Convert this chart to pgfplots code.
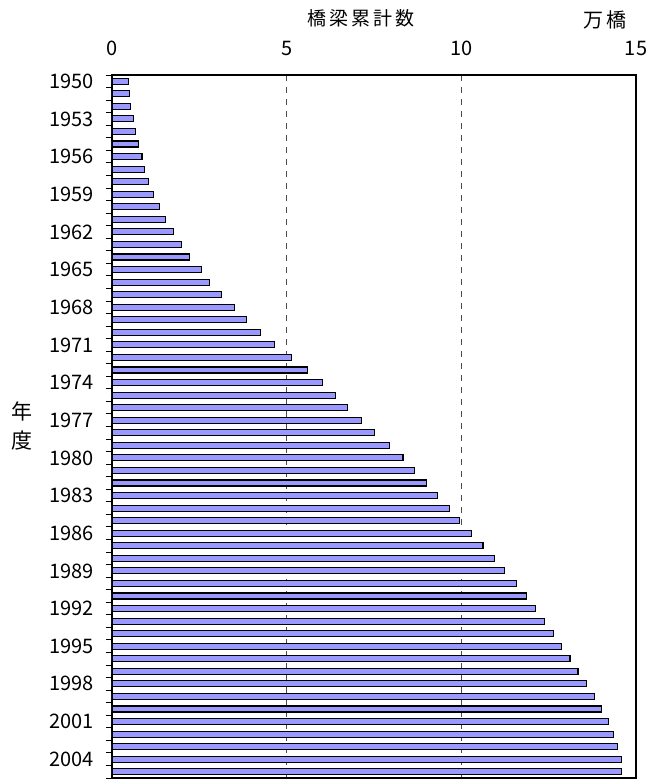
\documentclass[border=0pt]{standalone}
\usepackage{fontspec}
\setmainfont{Noto Sans CJK JP}
\usepackage{pgfplots}
\pgfplotsset{compat=1.18}
\definecolor{barfill}{RGB}{153,153,255}
\begin{document}
\begin{tikzpicture}
\useasboundingbox (-112pt,-3pt) rectangle (548pt,778pt);
\begin{axis}[
  at={(0pt,0pt)}, anchor=south west,
  scale only axis, width=524pt, height=703pt,
  font=\fontsize{20}{23}\selectfont,
  /pgf/number format/assume math mode=true,
  xmin=0, xmax=15,
  ymin=1949.5, ymax=2005.5,
  y dir=reverse,
  xtick={0,5,10,15},
  xtick pos=right, xticklabel pos=right,
  xmajorgrids,
  grid style={dash pattern=on 6pt off 6pt, black!70, line width=0.8pt},
  ytick={1950,1953,...,2004},
  minor ytick={1949.5,1950.5,...,2005.5},
  ytick pos=left,
  tick align=inside,
  major tick length=0pt,
  minor tick length=6pt,
  minor tick style={black, line width=0.9pt},
  yticklabel style={/pgf/number format/1000 sep={}, xshift=-15pt},
  xticklabel style={yshift=16pt},
  axis line style={black, line width=1.2pt},
  xbar, bar width=6pt,
]
\addplot[fill=barfill, draw=black, line width=1.1pt] coordinates {
(0.48,1950) (0.51,1951) (0.52,1952) (0.62,1953) (0.66,1954)
(0.76,1955) (0.86,1956) (0.94,1957) (1.04,1958) (1.19,1959)
(1.37,1960) (1.53,1961) (1.75,1962) (1.99,1963) (2.22,1964)
(2.57,1965) (2.79,1966) (3.14,1967) (3.51,1968) (3.84,1969)
(4.24,1970) (4.66,1971) (5.13,1972) (5.60,1973) (6.03,1974)
(6.41,1975) (6.75,1976) (7.13,1977) (7.51,1978) (7.94,1979)
(8.33,1980) (8.66,1981) (9.00,1982) (9.33,1983) (9.66,1984)
(9.95,1985) (10.29,1986) (10.62,1987) (10.96,1988) (11.23,1989)
(11.58,1990) (11.86,1991) (12.13,1992) (12.39,1993) (12.64,1994)
(12.87,1995) (13.11,1996) (13.34,1997) (13.58,1998) (13.82,1999)
(14.01,2000) (14.20,2001) (14.35,2002) (14.48,2003) (14.58,2004)
(14.58,2005)
};
\end{axis}
\node[font=\fontsize{19}{21}\selectfont] at (249pt,760pt) {橋\,梁\,累\,計\,数};
\node[font=\fontsize{20}{21}\selectfont] at (493pt,758pt) {万\,橋};
\node[font=\fontsize{21}{29}\selectfont, align=center] at (-90pt,351.5pt) {年\\度};
\end{tikzpicture}
\end{document}
